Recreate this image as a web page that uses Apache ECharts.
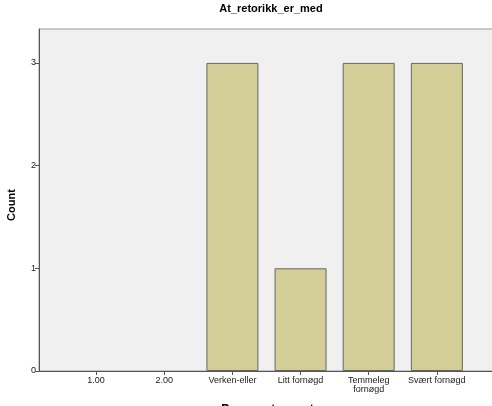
<!DOCTYPE html>
<html><head><meta charset="utf-8">
<script src="https://cdn.jsdelivr.net/npm/echarts@6/dist/echarts.min.js"></script>
<style>html,body{margin:0;padding:0;background:#fff}#c{width:492px;height:406px}</style>
</head><body><div id="c"></div>
<script>
var chartTitle = "At_retorikk_er_med";
var xTitle = "Passer utsagnet";
var yTitle = "Count";
var categories = ["1.00", "2.00", "Verken-eller", "Litt fornøgd", "Temmeleg\nfornøgd", "Svært fornøgd"];
var counts = [0, 0, 3, 1, 3, 3];
var yTicks = [0, 1, 2, 3];

var positions = categories.map(function (c, i) { return i + 1; });
var data = counts.map(function (v, i) {
  return {value: [positions[i], v], itemStyle: v === 0 ? {borderWidth: 0, opacity: 0} : undefined};
});

var chart = echarts.init(document.getElementById('c'), null, {renderer: 'canvas'});
chart.setOption({
  animation: false,
  backgroundColor: '#ffffff',
  textStyle: {fontFamily: 'Liberation Sans'},
  title: {
    text: chartTitle, left: 266, top: -2, textAlign: 'center',
    textStyle: {fontFamily: 'Liberation Sans', fontWeight: 'bold', fontSize: 11, color: '#000'}
  },
  grid: {
    left: 39, top: 29, right: -4, bottom: 35,
    show: true, backgroundColor: '#f0f0f0', borderColor: '#999999', borderWidth: 1,
    containLabel: false, outerBoundsMode: 'none'
  },
  xAxis: {
    type: 'value', min: 0.162, max: 6.868,
    name: xTitle, nameLocation: 'middle', nameGap: 35,
    nameTextStyle: {fontFamily: 'Liberation Sans', fontWeight: 'bold', fontSize: 12, color: '#000', verticalAlign: 'top', padding: [-2, 0, 0, 0]},
    splitLine: {show: false},
    axisLine: {show: true, onZero: false, lineStyle: {color: '#555555', width: 1}},
    axisTick: {show: true, length: 4, customValues: positions, lineStyle: {color: '#555555'}},
    axisLabel: {
      customValues: positions, fontSize: 9, color: '#222', margin: 5, lineHeight: 9,
      formatter: function (v) { var i = Math.round(v) - 1; return categories[i] || ''; }
    }
  },
  yAxis: {
    type: 'value', min: 0, max: 3.33,
    name: yTitle, nameLocation: 'middle', nameGap: 22,
    nameTextStyle: {fontFamily: 'Liberation Sans', fontWeight: 'bold', fontSize: 11, color: '#000', padding: [0, 10, 0, 0]},
    splitLine: {show: false},
    axisLine: {show: true, lineStyle: {color: '#555555', width: 1}},
    axisTick: {show: true, length: 4, customValues: yTicks, lineStyle: {color: '#555555'}},
    axisLabel: {customValues: yTicks, fontSize: 9, color: '#222', margin: 3}
  },
  series: [{
    type: 'bar', data: data, barWidth: 52,
    itemStyle: {color: '#d3ce97', borderColor: '#666666', borderWidth: 1}
  }]
});
</script></body></html>
